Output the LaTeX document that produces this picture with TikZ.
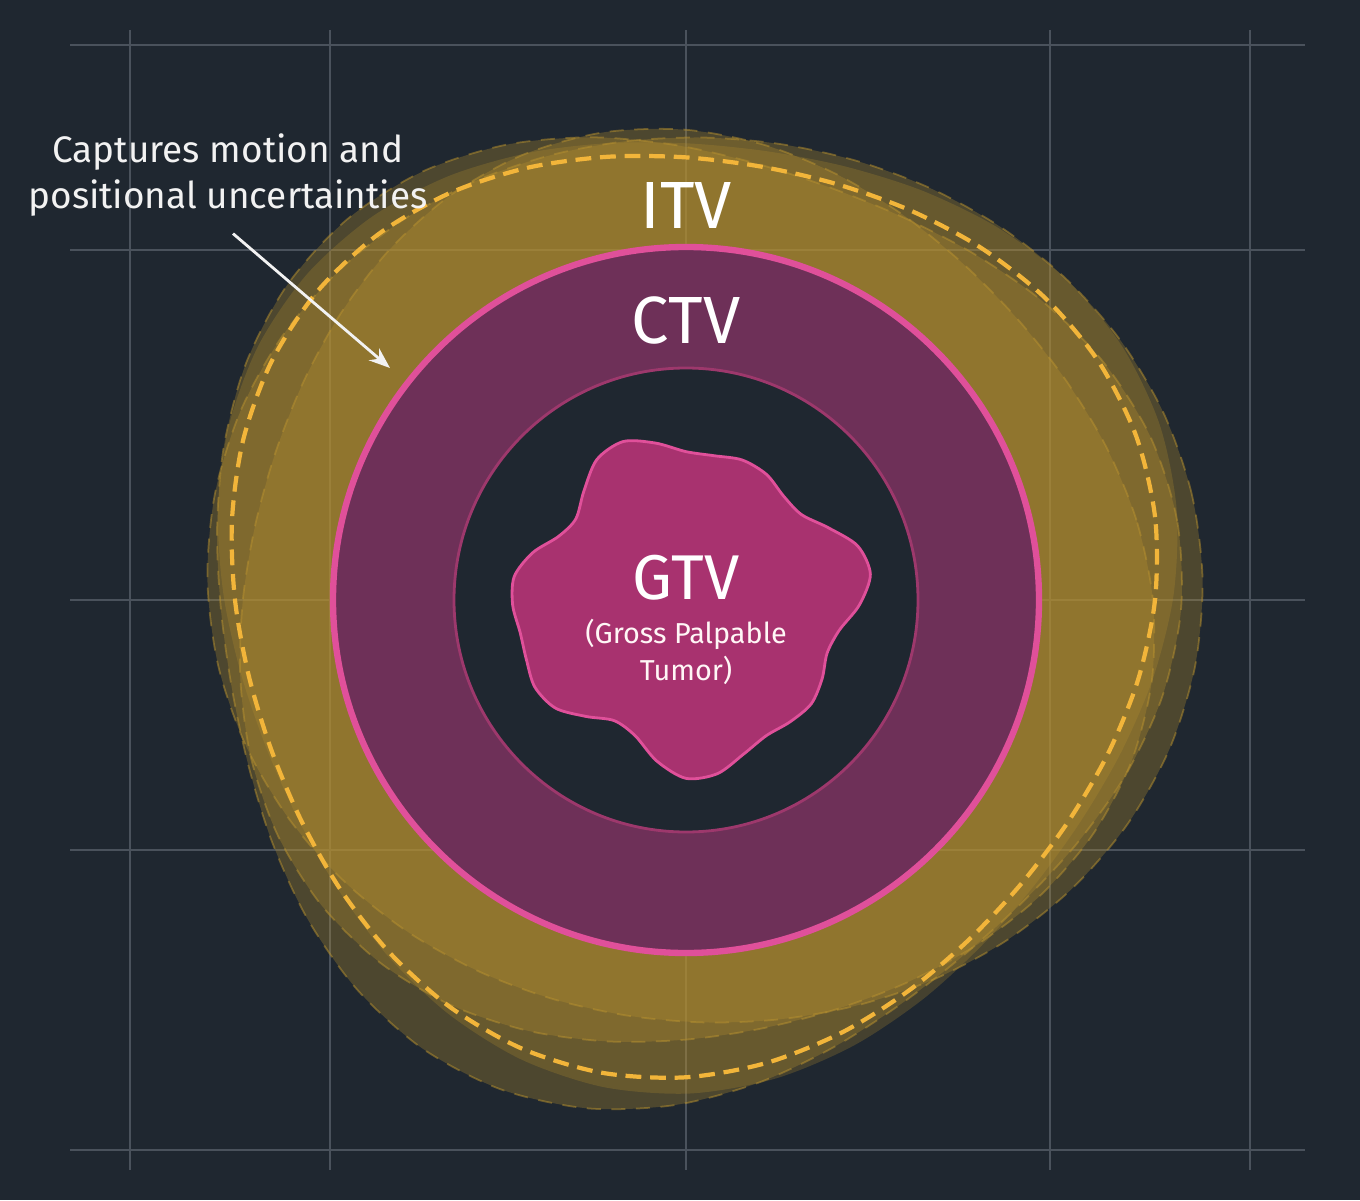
\documentclass[tikz,border=0pt]{standalone}
\usepackage{fontspec}
\setmainfont{Fira Sans}
\usetikzlibrary{arrows.meta}
\definecolor{bgdark}{HTML}{1F2730}
\definecolor{gridgray}{HTML}{4A525C}
\definecolor{itvgold}{HTML}{B8912E}
\definecolor{itvdash}{HTML}{F2B53A}
\definecolor{ctvpink}{HTML}{E0509A}
\definecolor{ctvfill}{HTML}{6E3058}
\definecolor{gtvfill}{HTML}{A8326F}
\tikzset{
  gridline/.style={gridgray, line width=0.4pt},
  itvblob/.style={fill=itvgold, fill opacity=0.3, draw=itvgold, draw opacity=0.5, dash pattern=on 4pt off 3pt, line width=0.5pt},
  itvedge/.style={itvdash, line width=1.2pt, dash pattern=on 4.5pt off 2.5pt},
  label/.style={text=white, font=\fontsize{19}{20}\selectfont},
  note/.style={text=white!90!gray, font=\fontsize{10.5}{13}\selectfont, align=center}
}
\newcommand{\wobble}[6]{% cx, cy, R, amp, k, phase
  plot[smooth cycle, domain=0:350, samples=36, variable=\t]
  ({#1+(#3+#4*sin(#5*\t+#6))*cos(\t)},{#2+(#3+#4*sin(#5*\t+#6))*sin(\t)})}
\begin{document}
\begin{tikzpicture}
\fill[bgdark] (0,0) rectangle (13.6,12);
\useasboundingbox (0,0) rectangle (13.6,12);
% grid
\foreach \x in {1.3,3.3,6.86,10.5,12.5}
  \draw[gridline] (\x,0.3) -- (\x,11.7);
\foreach \y in {11.55,9.5,6.0,3.5,0.5}
  \draw[gridline] (0.7,\y) -- (13.05,\y);
% ITV
\fill[itvgold, opacity=0.25] \wobble{6.9}{6.05}{4.75}{0.25}{3}{20};
\draw[itvblob] \wobble{6.75}{5.9}{4.8}{0.3}{3}{60};
\draw[itvblob] \wobble{7.05}{6.2}{4.7}{0.28}{2}{100};
\draw[itvblob] \wobble{6.85}{6.0}{4.55}{0.2}{3}{140};
\draw[itvedge] \wobble{6.85}{6.0}{4.6}{0.2}{3}{30};
% CTV
\fill[ctvfill] (6.86,6.0) circle (3.53);
\draw[ctvpink, line width=1.8pt] (6.86,6.0) circle (3.53);
\fill[bgdark] (6.86,6.0) circle (2.32);
\draw[ctvpink!70!black, line width=0.8pt] (6.86,6.0) circle (2.32);
% GTV
\filldraw[fill=gtvfill, draw=ctvpink, line width=0.8pt]
  plot[smooth cycle, domain=0:350, samples=36, variable=\t]
  ({6.86+(1.65+0.13*sin(4*\t+40)+0.1*sin(7*\t))*cos(\t)},{5.95+(1.55+0.13*sin(4*\t+40)+0.1*sin(7*\t))*sin(\t)});
% labels
\node[label] (itv) at (6.86,9.95) {ITV};
\node[label] (ctv) at (6.86,8.8) {CTV};
\node[label, font=\fontsize{18}{20}\selectfont] (gtv) at (6.86,6.22) {GTV};
\node[note, text=white!85!pink, font=\fontsize{8.2}{10.5}\selectfont] (gross) at (6.86,5.48) {(Gross Palpable\\Tumor)};
\node[note] (motion) at (2.28,10.25) {Captures motion and\\positional uncertainties};
\coordinate (tip) at (3.9,8.32);
\draw[white!90!gray, line width=0.8pt, -{Stealth[length=6pt]}] (motion.south) ++(0.05,-0.05) -- (tip);
\end{tikzpicture}
\end{document}
